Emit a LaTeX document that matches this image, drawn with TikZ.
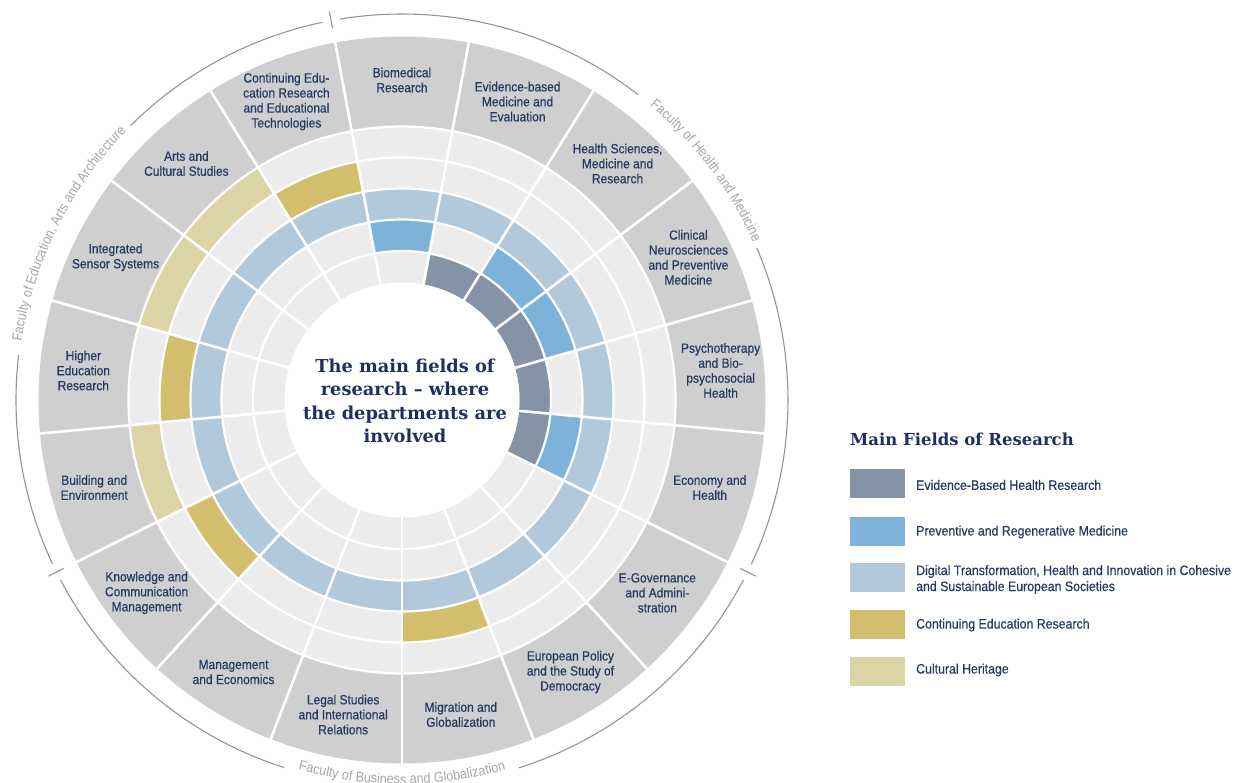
\documentclass[tikz,border=0pt]{standalone}
\usepackage{fontspec}
\usetikzlibrary{decorations.text}
\newfontfamily\labfam[FakeStretch=0.9,FakeBold=0.5]{Liberation Sans}
\newfontfamily\facfam[FakeStretch=0.9]{Liberation Sans}
\newfontfamily\serfam{DejaVu Serif}
\newcommand\facfont{\facfam\fontsize{14}{14}\selectfont}
\definecolor{navy}{HTML}{1F305E}
\definecolor{labtext}{HTML}{263963}
\definecolor{outergray}{HTML}{CFCFCF}
\definecolor{emptycell}{HTML}{ECECEC}
\definecolor{fdark}{HTML}{8493A6}
\definecolor{fblue}{HTML}{7DB3D8}
\definecolor{flight}{HTML}{B2C9DC}
\definecolor{fgold}{HTML}{D2BE6C}
\definecolor{fpale}{HTML}{DCD3A7}
\definecolor{facline}{HTML}{8D94A6}
\definecolor{factext}{HTML}{A4A7AD}
\newcommand\cellfill[4]{%
  \pgfmathsetmacro\angA{100.5882-21.17647*#1}%
  \pgfmathsetmacro\angB{\angA-21.17647}%
  \fill[#4] (\angA:#2pt) arc[start angle=\angA, end angle=\angB, radius=#2pt]
    -- (\angB:#3pt) arc[start angle=\angB, end angle=\angA, radius=#3pt] -- cycle;}
\tikzset{
  seclabel/.style={font=\labfam\fontsize{13.3}{15}\selectfont, text=labtext, align=center, inner sep=0pt},
  swatch/.style={minimum width=55pt, minimum height=29pt, inner sep=0pt, draw=none},
  legtext/.style={font=\labfam\fontsize{13.7}{16}\selectfont, text=labtext, anchor=west, align=left, inner sep=0pt},
  facarc/.style={draw=facline, line width=1.1pt},
  sepline/.style={white, line width=2.6pt},
  sepring/.style={white, line width=2.2pt}
}
\begin{document}
\begin{tikzpicture}[x=1pt,y=1pt]
\useasboundingbox (-402,-382) rectangle (835,400);
% rings
\fill[outergray] (0,0) circle[radius=363.5pt];
\fill[emptycell] (0,0) circle[radius=273.5pt];
\fill[flight] (0,0) circle[radius=211.5pt];
\fill[emptycell] (0,0) circle[radius=180.5pt];
\foreach \i in {1,...,5} {\cellfill{\i}{117.5}{149}{fdark}}
\foreach \i in {0,2,3,5} {\cellfill{\i}{149}{180.5}{fblue}}
\foreach \i in {8,11,13,16} {\cellfill{\i}{211.5}{242.5}{fgold}}
\foreach \i in {12,14,15} {\cellfill{\i}{242.5}{273.5}{fpale}}
\fill[white] (0,0) circle[radius=117.5pt];
\foreach \r in {149,180.5,211.5,242.5,273.5} {\draw[sepring] (0,0) circle[radius=\r pt];}
\foreach \k in {0,...,16} {%
  \pgfmathsetmacro\angA{100.5882-21.17647*\k}%
  \draw[sepline] (\angA:116pt) -- (\angA:366pt);}
% sector labels
\node[seclabel] (s0) at (90:320pt) {Biomedical\\Research};
\node[seclabel] (s1) at (68.824:320pt) {Evidence-based\\Medicine and\\Evaluation};
\node[seclabel] (s2) at (47.647:320pt) {Health Sciences,\\Medicine and\\Research};
\node[seclabel] (s3) at (26.471:320pt) {Clinical\\Neurosciences\\and Preventive\\Medicine};
\node[seclabel] (s4) at (5.294:320pt) {Psychotherapy\\and Bio-\\psychosocial\\Health};
\node[seclabel] (s5) at (-15.882:320pt) {Economy and\\Health};
\node[seclabel] (s6) at (-37.059:320pt) {E-Governance\\and Admini-\\stration};
\node[seclabel] (s7) at (-58.235:320pt) {European Policy\\and the Study of\\Democracy};
\node[seclabel] (s8) at (-79.412:320pt) {Migration and\\Globalization};
\node[seclabel] (s9) at (-100.588:320pt) {Legal Studies\\and International\\Relations};
\node[seclabel] (s10) at (-121.765:320pt) {Management\\and Economics};
\node[seclabel] (s11) at (-142.941:320pt) {Knowledge and\\Communication\\Management};
\node[seclabel] (s12) at (-164.118:320pt) {Building and\\Environment};
\node[seclabel] (s13) at (-185.294:320pt) {Higher\\Education\\Research};
\node[seclabel] (s14) at (-206.471:320pt) {Integrated\\Sensor Systems};
\node[seclabel] (s15) at (-227.647:320pt) {Arts and\\Cultural Studies};
\node[seclabel] (s16) at (-248.824:320pt) {Continuing Edu-\\cation Research\\and Educational\\Technologies};
% centre text
\node[font=\serfam\bfseries\fontsize{17.8}{23.5}\selectfont, text=navy, align=center] (centre) at (3,-1)
  {The main fields of\\research – where\\the departments are\\involved};
% faculty arcs
\draw[facarc] (99.3:386pt) arc[start angle=99.3, end angle=52.3, radius=386pt];
\draw[facarc] (23.2:386pt) arc[start angle=23.2, end angle=-25.2, radius=386pt];
\draw[facarc] (-27.8:386pt) arc[start angle=-27.8, end angle=-72.4, radius=386pt];
\draw[facarc] (-107.8:386pt) arc[start angle=-107.8, end angle=-152.2, radius=386pt];
\draw[facarc] (205.1:386pt) arc[start angle=205.1, end angle=173.3, radius=386pt];
\draw[facarc] (134.7:386pt) arc[start angle=134.7, end angle=101.9, radius=386pt];
\foreach \a in {100.5882,-26.4706,-153.5294} {\draw[facarc] (\a:378pt) -- (\a:395pt);}
% faculty names
\path[decorate, decoration={text along path, text={|\facfont|Faculty of Health and Medicine}, text align=center, text color=factext}]
  (67.06:385pt) arc[start angle=67.06, end angle=7.06, radius=385pt];
\path[decorate, decoration={text along path, text={|\facfont|Faculty of Education, Arts and Architecture}, text align=center, text color=factext}]
  (188.53:385pt) arc[start angle=188.53, end angle=118.53, radius=385pt];
\path[decorate, decoration={text along path, text={|\facfont|Faculty of Business and Globalization}, text align=center, text color=factext}]
  (-122:384pt) arc[start angle=-122, end angle=-58, radius=384pt];
% legend
\node[anchor=base west, font=\serfam\bfseries\fontsize{16.5}{20}\selectfont, text=navy, inner sep=0pt] (legtitle) at (448,-45) {Main Fields of Research};
\node[swatch, fill=fdark] (sw1) at (475.5,-83.5) {};
\node[swatch, fill=fblue] (sw2) at (475.5,-131.5) {};
\node[swatch, fill=flight] (sw3) at (475.5,-177.5) {};
\node[swatch, fill=fgold] (sw4) at (475.5,-224.5) {};
\node[swatch, fill=fpale] (sw5) at (475.5,-271.5) {};
\node[legtext] (lt1) at (514,-85) {Evidence-Based Health Research};
\node[legtext] (lt2) at (514,-132) {Preventive and Regenerative Medicine};
\node[legtext] (lt3) at (514,-179.5) {Digital Transformation, Health and Innovation in Cohesive\\and Sustainable European Societies};
\node[legtext] (lt4) at (514,-225) {Continuing Education Research};
\node[legtext] (lt5) at (514,-270) {Cultural Heritage};
\end{tikzpicture}
\end{document}
